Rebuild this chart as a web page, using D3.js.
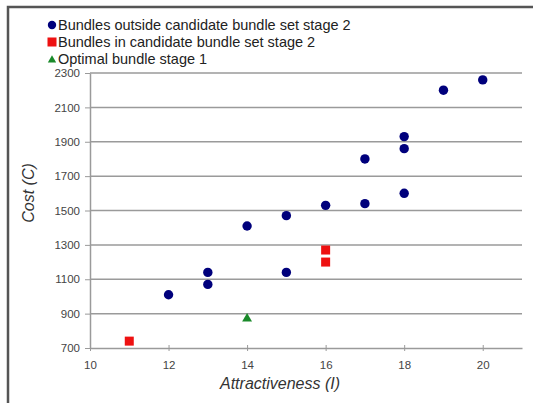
<!DOCTYPE html>
<html>
<head>
<meta charset="utf-8">
<script src="https://cdn.jsdelivr.net/npm/d3@7"></script>
<style>
  body { margin: 0; background: #fff; }
  svg { display: block; font-family: Arial, "Liberation Sans", sans-serif; }
</style>
</head>
<body>
<div id="plot"></div>
<script>
// series: bundles outside candidate set (stage 2)
let outsideX = [12, 13, 13, 14, 15, 15, 16, 17, 17, 18, 18, 18, 19, 20];
let outsideY = [1010, 1140, 1070, 1410, 1470, 1140, 1530, 1800, 1540, 1930, 1860, 1600, 2200, 2260];
// bundles in candidate set (stage 2)
let inX = [11, 16, 16];
let inY = [740, 1270, 1200];
// optimal bundle stage 1
let optX = [14];
let optY = [870];

let xTicks = [10, 12, 14, 16, 18, 20];
let yTicks = [700, 900, 1100, 1300, 1500, 1700, 1900, 2100, 2300];
let legendLabels = [
    "Bundles outside candidate bundle set stage 2",
    "Bundles in candidate bundle set stage 2",
    "Optimal bundle stage 1"
];

let svgWidth = 533;
let svgHeight = 403;
let margin = { top: 73, right: 11, bottom: 55, left: 90 };
let width = svgWidth - margin.left - margin.right;
let height = svgHeight - margin.top - margin.bottom;

let svg = d3.select('#plot')
    .append('svg')
    .attr('width', svgWidth)
    .attr('height', svgHeight);

// outer frame (only top and left edges visible)
svg.append('path')
    .attr('d', `M8,${svgHeight} L8,7 L${svgWidth},7`)
    .attr('fill', 'none')
    .attr('stroke', '#555')
    .attr('stroke-width', 2.5);

let chart = svg.append('g')
    .attr('transform', `translate(${margin.left},${margin.top})`);

let x = d3.scaleLinear().domain([10, 21]).range([0, width]);
let y = d3.scaleLinear().domain([700, 2300]).range([height, 0]);

// gridlines
chart.append('g')
    .selectAll('line')
    .data(yTicks.slice(1))
    .enter()
    .append('line')
    .attr('x1', 0)
    .attr('x2', width)
    .attr('y1', d => y(d))
    .attr('y2', d => y(d))
    .attr('stroke', '#9a9a9a')
    .attr('stroke-width', 1.5);

let xAxis = d3.axisBottom(x).tickValues(xTicks).tickFormat(d3.format('d')).tickSize(3).tickSizeOuter(0);
let yAxis = d3.axisLeft(y).tickValues(yTicks).tickFormat(d3.format('d')).tickSize(5).tickSizeOuter(0);

let gx = chart.append('g')
    .attr('transform', `translate(0,${height})`)
    .call(xAxis);
gx.selectAll('.tick line').attr('y1', -3).attr('y2', 3);
gx.selectAll('text').attr('dy', '1.3em');

let gy = chart.append('g').call(yAxis);
gy.selectAll('text').attr('x', -10);

chart.selectAll('.domain').attr('stroke', '#9a9a9a').attr('stroke-width', 1.5);
chart.selectAll('.tick line').attr('stroke', '#9a9a9a');
chart.selectAll('.tick text')
    .attr('fill', '#444')
    .style('font-size', '11.5px');

// axis titles
svg.append('text')
    .attr('x', 280)
    .attr('y', 389)
    .attr('text-anchor', 'middle')
    .style('font-size', '16px')
    .style('font-style', 'italic')
    .attr('fill', '#333')
    .text('Attractiveness (I)');

svg.append('text')
    .attr('transform', 'translate(34,193) rotate(-90)')
    .attr('text-anchor', 'middle')
    .style('font-size', '16px')
    .style('font-style', 'italic')
    .attr('fill', '#333')
    .text('Cost (C)');

// marks
chart.selectAll('circle.outside')
    .data(d3.zip(outsideX, outsideY))
    .enter()
    .append('circle')
    .attr('class', 'outside')
    .attr('cx', d => x(d[0]))
    .attr('cy', d => y(d[1]))
    .attr('r', 4.7)
    .attr('fill', '#00007c');

chart.selectAll('rect.inset')
    .data(d3.zip(inX, inY))
    .enter()
    .append('rect')
    .attr('class', 'inset')
    .attr('x', d => x(d[0]) - 4.5)
    .attr('y', d => y(d[1]) - 4.5)
    .attr('width', 9)
    .attr('height', 9)
    .attr('fill', '#ee1111');

let tri = d3.symbol().type(d3.symbolTriangle).size(42);
chart.selectAll('path.opt')
    .data(d3.zip(optX, optY))
    .enter()
    .append('path')
    .attr('class', 'opt')
    .attr('d', tri)
    .attr('transform', d => `translate(${x(d[0])},${y(d[1])})`)
    .attr('fill', '#1a8a2a');

// legend
let legend = svg.append('g').attr('transform', 'translate(52,25)');
let items = legend.selectAll('g')
    .data(legendLabels)
    .enter()
    .append('g')
    .attr('transform', (d, i) => `translate(0,${i * 17})`);

items.append('text')
    .attr('x', 6)
    .attr('dy', '0.35em')
    .style('font-size', '14.5px')
    .attr('fill', '#222')
    .text(d => d);

legend.append('circle').attr('r', 4.2).attr('fill', '#00007c');
legend.append('rect').attr('x', -4.5).attr('y', 17 - 4.5).attr('width', 9).attr('height', 9).attr('fill', '#ee1111');
legend.append('path')
    .attr('d', d3.symbol().type(d3.symbolTriangle).size(30))
    .attr('transform', 'translate(0,35)')
    .attr('fill', '#1a8a2a');
</script>
</body>
</html>
